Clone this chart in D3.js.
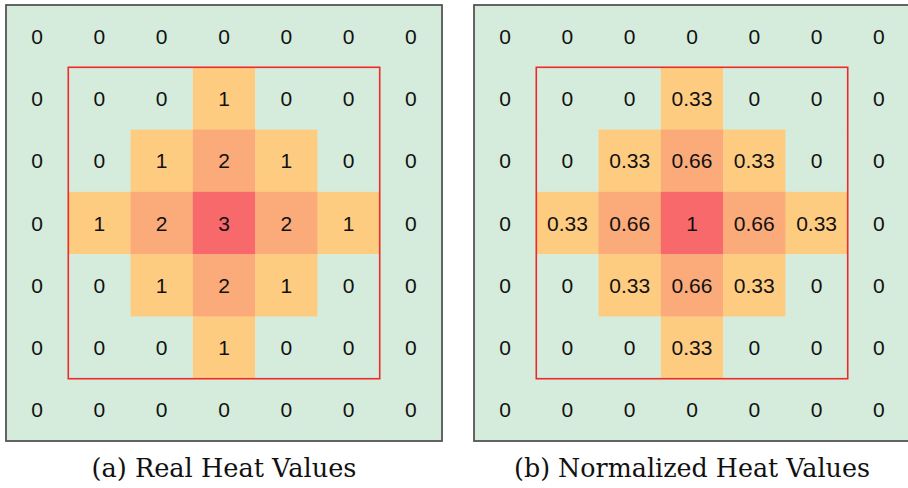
<!DOCTYPE html>
<html>
<head>
<meta charset="utf-8">
<script src="https://cdn.jsdelivr.net/npm/d3@7"></script>
<style>
  body { margin: 0; background: #fff; }
  svg { display: block; }
</style>
</head>
<body>
<div id="chart"></div>
<script>
// grid values (rows top to bottom)
var realHeat = [
  [0, 0, 0, 0, 0, 0, 0],
  [0, 0, 0, 1, 0, 0, 0],
  [0, 0, 1, 2, 1, 0, 0],
  [0, 1, 2, 3, 2, 1, 0],
  [0, 0, 1, 2, 1, 0, 0],
  [0, 0, 0, 1, 0, 0, 0],
  [0, 0, 0, 0, 0, 0, 0]
];
var normLabels = ["0", "0.33", "0.66", "1"];
var captions = ["(a) Real Heat Values", "(b) Normalized Heat Values"];
var captionWidths = [265, 356];
var heatColors = ["#d5ebdb", "#fecc81", "#fbaa79", "#f8696b"];

var width = 908, height = 488;
var panelSize = 436;
var panels = [{x: 6, y: 5}, {x: 474, y: 5}];

var svg = d3.select("#chart").append("svg")
  .attr("width", width)
  .attr("height", height);

var color = d3.scaleOrdinal()
  .domain([0, 1, 2, 3])
  .range(heatColors);

var idx = d3.range(7);

panels.forEach(function(p, pi) {
  var xScale = d3.scaleBand().domain(idx).range([p.x, p.x + panelSize]);
  var yScale = d3.scaleBand().domain(idx).range([p.y, p.y + panelSize]);

  var cells = [];
  realHeat.forEach(function(row, r) {
    row.forEach(function(v, c) { cells.push({r: r, c: c, v: v}); });
  });

  var g = svg.append("g");

  g.selectAll("rect.cell")
    .data(cells)
    .enter().append("rect")
      .attr("class", "cell")
      .attr("x", function(d) { return xScale(d.c); })
      .attr("y", function(d) { return yScale(d.r); })
      .attr("width", xScale.bandwidth() + 0.5)
      .attr("height", yScale.bandwidth() + 0.5)
      .style("fill", function(d) { return color(d.v); });

  g.selectAll("text.val")
    .data(cells)
    .enter().append("text")
      .attr("class", "val")
      .attr("x", function(d) { return xScale(d.c) + xScale.bandwidth() / 2; })
      .attr("y", function(d) { return yScale(d.r) + yScale.bandwidth() / 2; })
      .attr("dy", "0.36em")
      .attr("text-anchor", "middle")
      .style("font-family", "Arimo, Roboto, sans-serif")
      .style("font-size", "21px")
      .style("fill", "#111")
      .text(function(d) { return pi === 0 ? d.v : normLabels[d.v]; });

  // red box around inner 5x5
  g.append("rect")
    .attr("x", xScale(1))
    .attr("y", yScale(1))
    .attr("width", xScale(6) - xScale(1))
    .attr("height", yScale(6) - yScale(1))
    .style("fill", "none")
    .style("stroke", "#ee2a2a")
    .style("stroke-width", 1.6);

  // panel border
  g.append("rect")
    .attr("x", p.x)
    .attr("y", p.y)
    .attr("width", panelSize)
    .attr("height", panelSize)
    .style("fill", "none")
    .style("stroke", "#555")
    .style("stroke-width", 1.8);

  svg.append("text")
    .attr("x", p.x + panelSize / 2)
    .attr("y", 477)
    .attr("text-anchor", "middle")
    .attr("textLength", captionWidths[pi])
    .attr("lengthAdjust", "spacingAndGlyphs")
    .style("font-family", "'DejaVu Serif', serif")
    .style("font-size", "26px")
    .style("fill", "#111")
    .text(captions[pi]);
});
</script>
</body>
</html>
